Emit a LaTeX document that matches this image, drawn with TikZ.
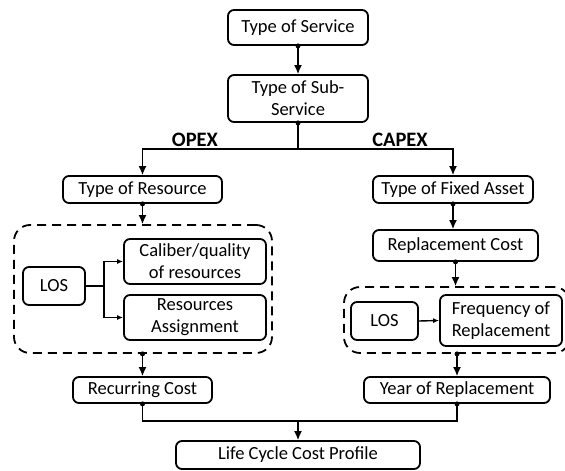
\documentclass[tikz,border=0pt]{standalone}
\usepackage{fontspec}
\setmainfont{Carlito}
\usetikzlibrary{arrows.meta}
\begin{document}
\begin{tikzpicture}[x=1pt,y=-1pt,
 box/.style={draw, line width=1.8pt, rounded corners=6pt, inner sep=0pt, align=center, font=\fontsize{18.5}{22}\selectfont},
 dbox/.style={draw, line width=1.8pt, dash pattern=on 9pt off 6pt, rounded corners=16pt, inner sep=0pt},
 conn/.style={line width=1.4pt},
 arr/.style={conn, -{Latex[length=9pt,width=8pt]}},
 sarr/.style={conn, -{Latex[length=6pt,width=5pt]}},
 lab/.style={font=\fontsize{20.5}{24}\selectfont\bfseries}]
\useasboundingbox (0,0) rectangle (565,471);
% boxes
\node[box, minimum width=140pt, minimum height=35pt] (svc) at (298,27.5) {Type of Service};
\node[box, minimum width=140pt, minimum height=47pt] (sub) at (298,98.5) {Type of Sub-\\Service};
\node[box, minimum width=159pt, minimum height=27pt] (res) at (142.5,189.5) {Type of Resource};
\node[dbox, minimum width=258pt, minimum height=128pt] (d1) at (143,289) {};
\node[box, minimum width=62pt, minimum height=38pt] (los1) at (54,286) {LOS};
\node[box, minimum width=142pt, minimum height=45pt] (cal) at (195,261.5) {Caliber/quality\\of resources};
\node[box, minimum width=142pt, minimum height=45pt] (asg) at (195,317.5) {Resources\\Assignment};
\node[box, minimum width=139pt, minimum height=26pt] (rec) at (142.5,390) {Recurring Cost};
\node[box, minimum width=160pt, minimum height=27pt] (fix) at (453,189.5) {Type of Fixed Asset};
\node[box, minimum width=165pt, minimum height=31pt] (rcost) at (455.5,245.5) {Replacement Cost};
\node[dbox, minimum width=226pt, minimum height=66pt] (d2) at (457,320) {};
\node[box, minimum width=67pt, minimum height=38pt] (los2) at (384.5,321) {LOS};
\node[box, minimum width=122pt, minimum height=51pt] (freq) at (501,320.5) {Frequency of\\Replacement};
\node[box, minimum width=186pt, minimum height=26pt] (year) at (457,390) {Year of Replacement};
\node[box, minimum width=244pt, minimum height=28pt] (lcc) at (298,455) {Life Cycle Cost Profile};
% labels
\node[lab] (opex) at (195,140) {OPEX};
\node[lab] (capex) at (400,140) {CAPEX};
% connectors
\coordinate (split) at (298,149);
\coordinate (br) at (104,286);
\coordinate (join) at (298,421);
\draw[arr] (svc.south) -- (sub.north);
\draw[conn] (sub.south) -- (split);
\draw[arr] (split) -| (res.north);
\draw[arr] (split) -| (fix.north);
\draw[arr] (res.south) -- (res.south |- d1.north);
\draw[conn] (los1.east) -- (br);
\draw[sarr] (br) |- (cal.west);
\draw[sarr] (br) |- (asg.west);
\draw[arr] (rec.south |- d1.south) -- (rec.north);
\draw[arr] (fix.south) -- (fix.south |- rcost.north);
\draw[arr] (rcost.south) -- (rcost.south |- d2.north);
\draw[sarr] (los2.east) -- (freq.west);
\draw[arr] (year.north |- d2.south) -- (year.north);
\draw[conn] (rec.south) -- (rec.south |- join) -- (year.south |- join) -- (year.south);
\draw[arr] (join) -- (lcc.north);
% dots
\foreach \p in {svc.south, sub.south, res.south, fix.south, rcost.south, rec.south, year.south}
  \fill (\p) circle (2.5pt);
\fill (rec.south |- d1.south) circle (2.5pt);
\fill (year.north |- d2.south) circle (2.5pt);
\end{tikzpicture}
\end{document}
